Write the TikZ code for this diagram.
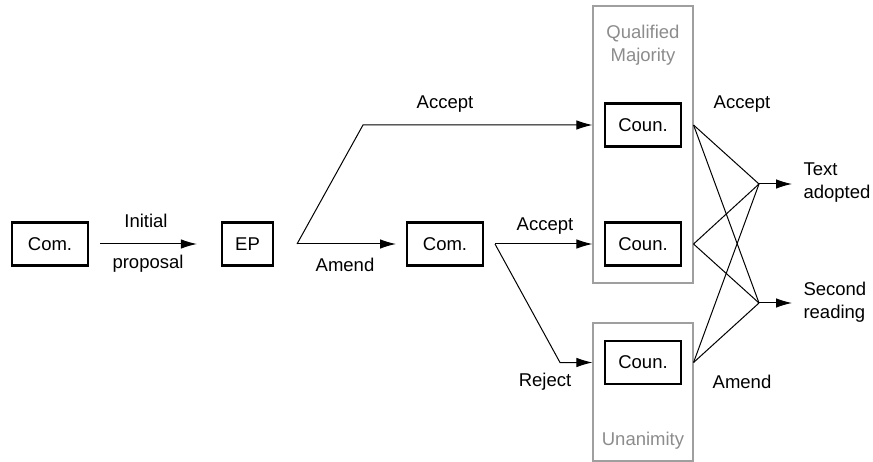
\documentclass[tikz,border=0pt]{standalone}
\usepackage{fontspec}
\setmainfont{Liberation Sans}
\usetikzlibrary{arrows.meta}
\begin{document}
\begin{tikzpicture}[x=1pt,y=-1pt,font=\fontsize{18.5}{23}\selectfont,
  box/.style={draw,line width=2.2pt,minimum height=43pt,inner sep=0pt},
  arr/.style={-{Latex[length=16pt,width=9.5pt]},line width=1pt},
  ln/.style={line width=1pt},
  grp/.style={draw=gray!75,line width=1.1pt,inner sep=0pt,minimum width=100pt},
  grptxt/.style={text=gray!90,align=center}]
\useasboundingbox (0,0) rectangle (873,462);

\node[grp,minimum height=277pt] (qm) at (643,144.5) {};
\node[grp,minimum height=138pt] (un) at (643,392) {};
\node[grptxt] (qmt) at (643,45) {Qualified\\Majority};
\node[grptxt] (unt) at (643,441) {Unanimity};

\node[box,minimum width=76pt] (com1) at (50,244) {Com.};
\node[box,minimum width=51pt] (ep) at (247.5,244) {EP};
\node[box,minimum width=76pt] (com2) at (445,244) {Com.};
\node[box,minimum width=76pt] (c1) at (643,125) {Coun.};
\node[box,minimum width=76pt] (c2) at (643,244) {Coun.};
\node[box,minimum width=76pt] (c3) at (643,362.5) {Coun.};

\coordinate (j1) at (297,244);
\coordinate (j2) at (363,125);
\coordinate (j3) at (495,244);
\coordinate (j4) at (560,362.5);
\coordinate (ta) at (759,184);
\coordinate (sr) at (759,303);
\coordinate (tae) at (792,184);
\coordinate (sre) at (792,303);

\draw[arr,shorten <=11pt,shorten >=24pt] (com1) -- (ep);
\draw[arr] (j1) -- (j2) -- (c1 -| qm.west);
\draw[arr] (j1) -- (396,244);
\draw[arr] (j3) -- (c2 -| qm.west);
\draw[arr] (j3) -- (j4) -- (c3 -| un.west);

\draw[ln] (c1 -| qm.east) edge (ta) edge (sr);
\draw[ln] (c2 -| qm.east) edge (ta) edge (sr);
\draw[ln] (c3 -| un.east) edge (ta) edge (sr);
\draw[arr] (ta) -- (tae);
\draw[arr] (sr) -- (sre);

\node (l1) at (146,221) {Initial};
\node (l2) at (148,264) {proposal};
\node (l3) at (445,104) {Accept};
\node (l4) at (345,265) {Amend};
\node (l5) at (545,226) {Accept};
\node (l6) at (545,382) {Reject};
\node (l7) at (742,104) {Accept};
\node (l8) at (742,382) {Amend};
\node[anchor=west,align=left] (l9) at (800,183) {Text\\adopted};
\node[anchor=west,align=left] (l10) at (800,302) {Second\\reading};
\end{tikzpicture}
\end{document}
